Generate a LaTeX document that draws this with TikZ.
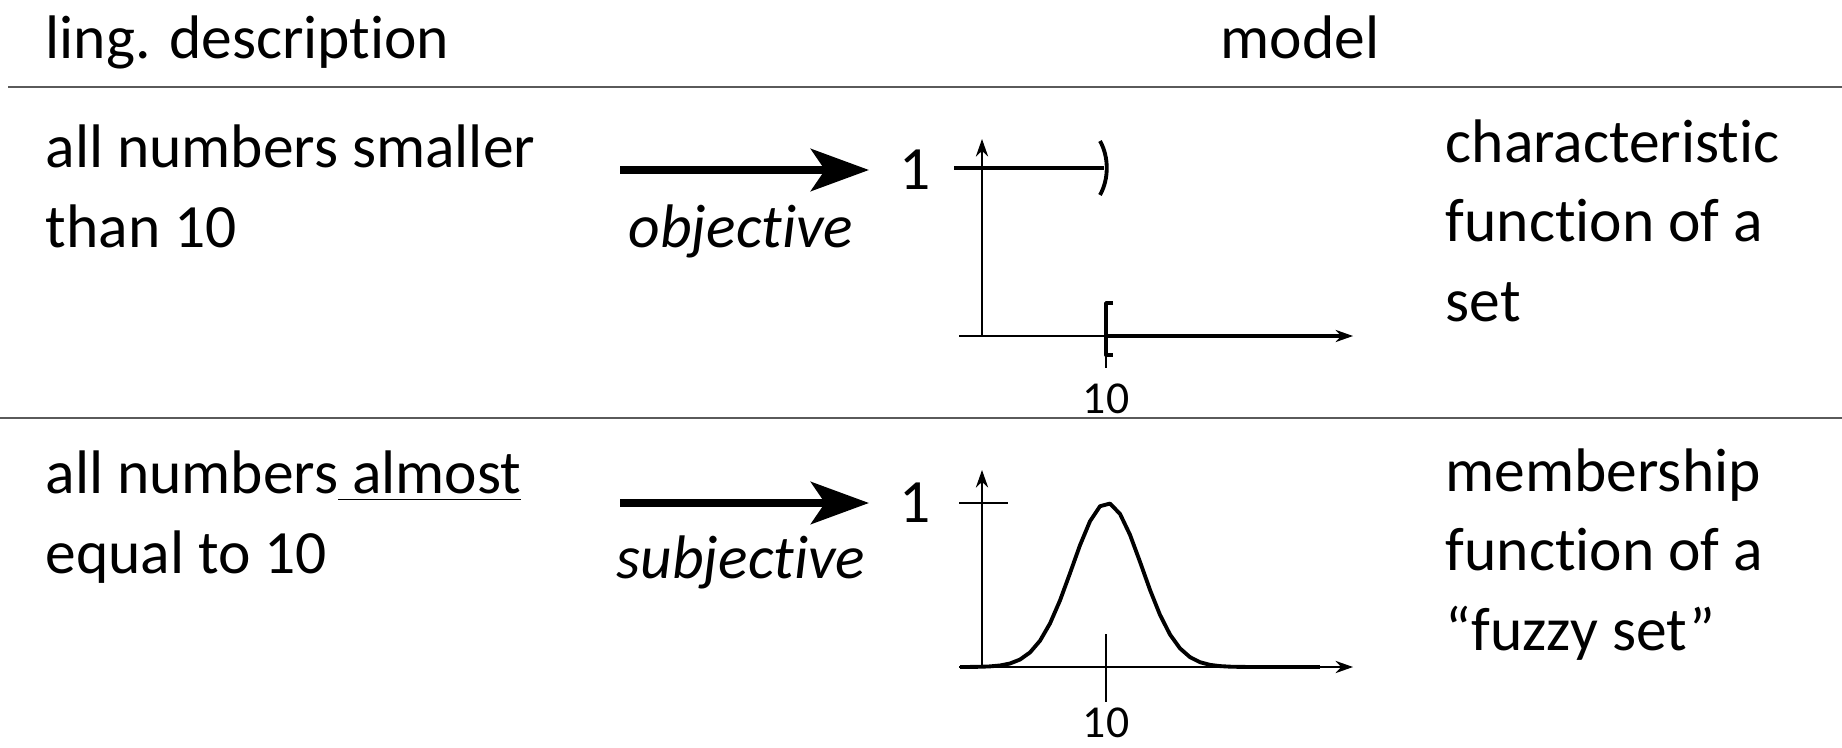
\documentclass[tikz,border=0pt]{standalone}
\usepackage{fontspec}
\setmainfont[Ligatures=NoCommon]{Carlito}
\usetikzlibrary{arrows.meta,calc,positioning}
\definecolor{rulegray}{RGB}{90,90,90}

\begin{document}
\begin{tikzpicture}[>=Stealth,line join=round,
  txt/.style={font=\fontsize{17.5}{22.5}\selectfont,inner sep=0pt,align=left},
  slant/.style={font=\fontsize{17.5}{22.5}\selectfont\itshape,inner sep=0pt},
  small/.style={font=\fontsize{13}{15}\selectfont,inner sep=0pt},
  bigarrow/.style={-{Stealth[length=0.58cm,width=0.42cm,inset=0.14cm]},line width=2.3pt},
  axis/.style={-{Stealth[length=5pt,width=3.5pt]},line width=0.5pt},
  graph/.style={line width=1.1pt}]
 \useasboundingbox (0,0) rectangle (18.42,7.47);
 % headings
 \node[txt,anchor=base west] (ling) at (0.45,6.88) {ling. description};
 \node[txt,anchor=base] (model) at (13.00,6.88) {model};
 \draw[rulegray,line width=0.5pt] (0.08,6.60) -- (18.42,6.60);
 \draw[rulegray,line width=0.5pt] (0,3.29) -- (18.42,3.29);
 % crisp row (base = last line)
 \node[txt,anchor=base west] (crisp) at (0.45,5.00) {all numbers smaller\\than 10};
 \node[txt,anchor=base west] (charf) at (14.45,4.26) {characteristic\\function of a\\set};
 \coordinate (objA) at (6.20,5.77);
 \coordinate (objB) at (8.69,5.77);
 \draw[bigarrow] (objA) -- (objB);
 \node[slant,anchor=base] (obj) at (7.41,5.00) {objective};
 \node[txt,anchor=base] (one1) at (9.15,5.57) {1};
 \draw[axis] (9.82,4.11) -- (9.82,6.08);
 \draw[axis] (9.59,4.11) -- (13.53,4.11);
 \draw[graph] (9.54,5.79) -- (11.04,5.79);
 \draw[graph] (11.0,6.06) .. controls (11.09,5.90) and (11.09,5.68) .. (11.0,5.52);
 \draw[line width=0.5pt] (11.06,4.44) -- (11.06,3.79);
 \draw[graph] (11.13,4.44) -- (11.06,4.44) -- (11.06,3.92) -- (11.13,3.92);
 \draw[graph] (11.06,4.11) -- (13.40,4.11);
 \node[small] (ten1) at (11.06,3.48) {10};
 % fuzzy row
 \node[txt,anchor=base west] (fuzzy) at (0.45,1.74) {all numbers\underline{ almost}\\equal to 10};
 \node[txt,anchor=base west] (memf) at (14.45,0.97) {membership\\function of a\\“fuzzy set”};
 \coordinate (subA) at (6.20,2.44);
 \coordinate (subB) at (8.69,2.44);
 \draw[bigarrow] (subA) -- (subB);
 \node[slant,anchor=base] (subj) at (7.41,1.69) {subjective};
 \node[txt,anchor=base] (one2) at (9.15,2.25) {1};
 \draw[axis] (9.82,0.80) -- (9.82,2.77);
 \draw[axis] (9.59,0.80) -- (13.53,0.80);
 \draw[line width=0.5pt] (9.59,2.44) -- (10.08,2.44);
 \draw[line width=0.5pt] (11.06,1.13) -- (11.06,0.45);
 \draw[graph] plot[domain=9.6:13.2,samples=37] (\x,{0.80+1.64*exp(-((\x-11.07)^2)/(2*0.35^2))});
 \node[small] (ten2) at (11.06,0.24) {10};
\end{tikzpicture}
\end{document}
